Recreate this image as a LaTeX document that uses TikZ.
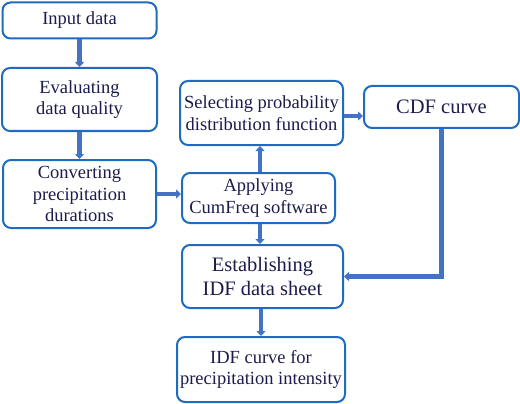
\documentclass[tikz,border=0pt]{standalone}
\usepackage{fontspec}
\setmainfont{Liberation Serif}
\usepackage{tikz}
\usetikzlibrary{arrows.meta}
\definecolor{boxblue}{HTML}{1F6BC0}
\definecolor{arrowblue}{HTML}{4472C4}
\definecolor{textnavy}{HTML}{1B1B4D}

\begin{document}
\begin{tikzpicture}[x=1pt, y=-1pt]
	\tikzset{
		block/.style = {rectangle, rounded corners=8pt, draw=boxblue, line width=2pt,
			text=textnavy, align=center, inner sep=0pt,
			font=\fontsize{18.5}{21.7}\selectfont},
		bigblock/.style = {block, font=\fontsize{20.5}{23.5}\selectfont},
		flow/.style = {arrowblue, line width=4.5pt, -{Triangle[width=9pt, length=5pt]}}
	}
	\useasboundingbox (0, 0) rectangle (520, 404);
	\node[block, minimum width=154pt, minimum height=36pt] (input) at (79.5, 20.5) {Input data};
	\node[block, minimum width=155pt, minimum height=63pt] (quality) at (79.5, 99.5) {Evaluating\\data quality};
	\node[block, minimum width=153pt, minimum height=68pt] (convert) at (79.5, 194) {Converting\\precipitation\\durations};
	\node[block, minimum width=163pt, minimum height=64pt] (select) at (261.5, 113) {Selecting probability\\distribution function};
	\node[bigblock, minimum width=155pt, minimum height=42pt] (cdf) at (441.5, 107) {CDF curve};
	\node[block, minimum width=153pt, minimum height=50pt] (cumfreq) at (258.5, 198) {Applying\\CumFreq software};
	\node[bigblock, minimum width=161pt, minimum height=63pt] (sheet) at (262.5, 276.5) {Establishing\\IDF data sheet};
	\node[block, minimum width=168pt, minimum height=65pt] (idf) at (261, 369.5) {IDF curve for\\precipitation intensity};

	\draw[flow] (input) -- (quality);
	\draw[flow] (quality) -- (convert);
	\draw[flow] (convert.east) -- (convert.east -| cumfreq.west);
	\draw[flow] ([xshift=1.5pt]cumfreq.north) -- ([xshift=1.5pt]cumfreq.north |- select.south);
	\draw[flow] ([yshift=-3pt]select.east) -- ([yshift=-3pt]select.east -| cdf.west);
	\draw[flow] ([xshift=1.5pt]cumfreq.south) -- ([xshift=1.5pt]cumfreq.south |- sheet.north);
	\draw[flow] (cdf.south) |- (sheet.east);
	\draw[flow] ([xshift=-1.5pt]sheet.south) -- ([xshift=-1.5pt]sheet.south |- idf.north);
\end{tikzpicture}
\end{document}
